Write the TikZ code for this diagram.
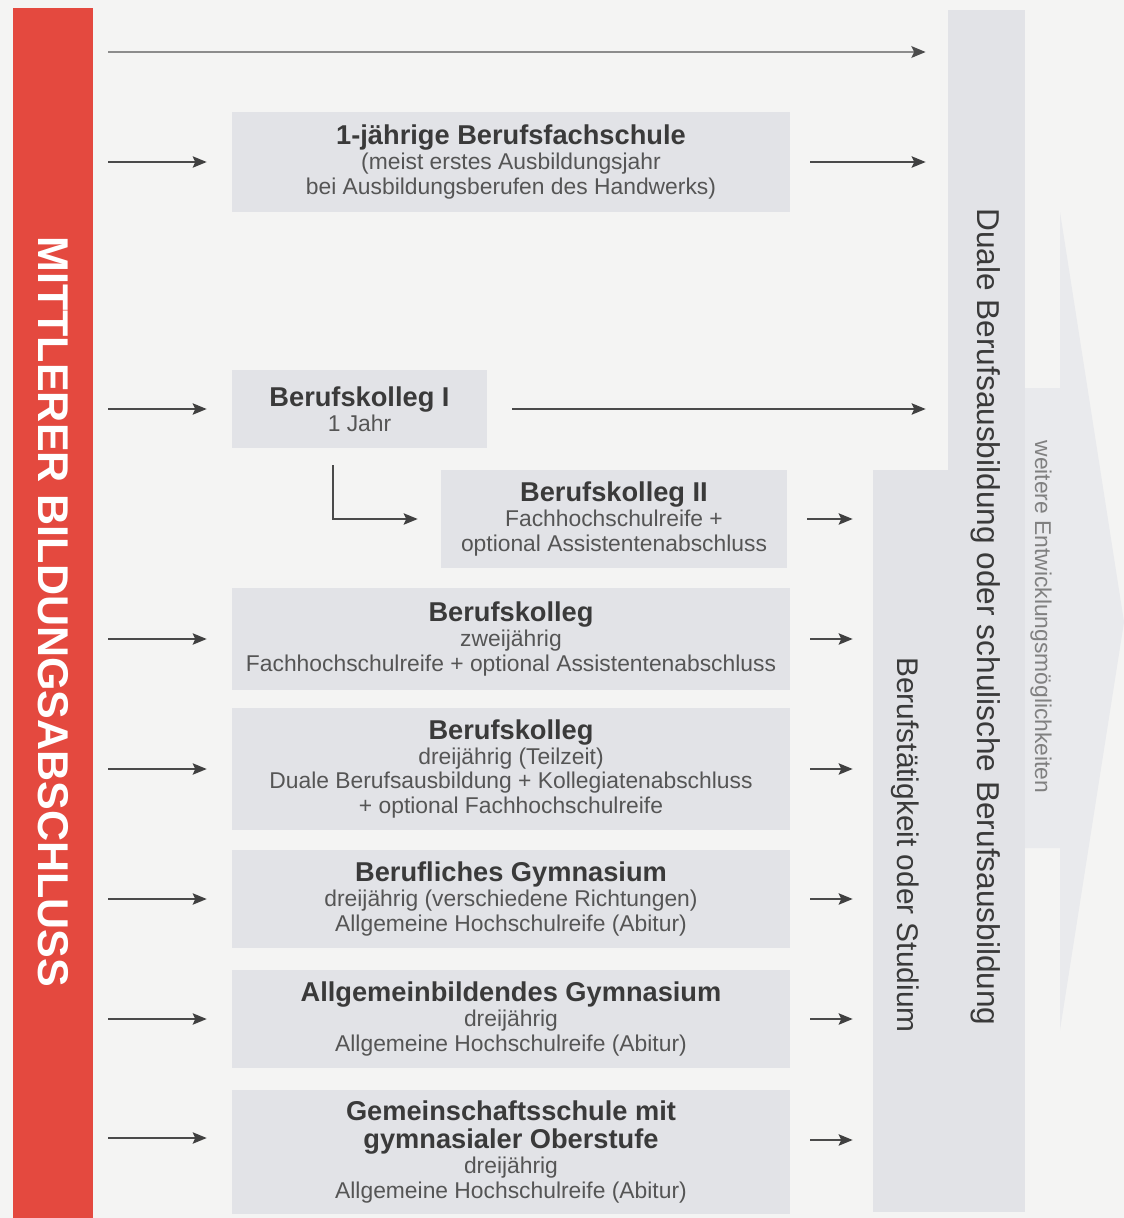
\documentclass[tikz,border=0pt]{standalone}
\usepackage{fontspec}
\setmainfont{Liberation Sans}
\usepackage{tikz}
\usetikzlibrary{arrows.meta,positioning,calc}
\definecolor{barRed}{HTML}{E4493F}
\definecolor{paperGray}{HTML}{F4F4F3}
\definecolor{boxGray}{HTML}{E2E3E7}
\definecolor{arrowGray}{HTML}{E9EAED}
\definecolor{textDark}{HTML}{3A3A3A}
\definecolor{textMid}{HTML}{555555}
\definecolor{lineDark}{HTML}{4A4A4A}
\newcommand{\ttl}[1]{{\fontsize{15.5}{14.2}\selectfont\bfseries\color{textDark}#1}}

\begin{document}
\begin{tikzpicture}[x=0.02cm, y=-0.02cm,
  every node/.style={inner sep=0pt},
  schoolbox/.style={fill=boxGray, align=center, text=textMid,
    font=\fontsize{13}{14.2}\selectfont},
  arr/.style={draw=lineDark, line width=0.9pt, -{Stealth[length=8pt,width=6.5pt,inset=1.5pt,color=black!75]}},
  toparr/.style={draw=black!45, line width=1.7pt, -{Stealth[length=8pt,width=6.5pt,inset=1.5pt,color=black!70]}},
  coltext/.style={rotate=-90, text=textDark, font=\fontsize{18}{20}\selectfont}]
\useasboundingbox (0,0) rectangle (1124,1218);
\fill[paperGray] (0,0) rectangle (1124,1218);

% big arrow behind the columns
\fill[arrowGray] (1025,388) -- (1060,388) -- (1060,212) -- (1124,622)
  -- (1060,1030) -- (1060,848) -- (1025,848) -- cycle;
\node[rotate=-90, text=black!50, font=\fontsize{13}{15}\selectfont] (weiter) at (1041,617) {weitere Entwicklungsmöglichkeiten};

% columns on the right
\node[fill=boxGray, minimum width=1.54cm, minimum height=24.04cm] (duale) at (986.5,611) {};
\node[fill=boxGray, minimum width=1.5cm, minimum height=14.84cm] (beruf) at (910.5,841) {};
\node[coltext] at (986,617) {Duale Berufsausbildung oder schulische Berufsausbildung};
\node[coltext, font=\fontsize{17}{20}\selectfont] at (905,845) {Berufstätigkeit oder Studium};

% red bar
\node[fill=barRed, minimum width=1.6cm, minimum height=24.3cm] (bar) at (53,615) {};
\node[rotate=-90, text=white, font=\fontsize{24.5}{26}\selectfont\bfseries] at (53,612) {MITTLERER BILDUNGSABSCHLUSS};

% schools
\node[schoolbox, minimum width=11.16cm, minimum height=2cm] (fach) at (511,162)
  {\ttl{1-jährige Berufsfachschule}\\(meist erstes Ausbildungsjahr\\bei Ausbildungsberufen des Handwerks)};
\node[schoolbox, minimum width=5.1cm, minimum height=1.56cm] (bk1) at (359.5,409)
  {\ttl{Berufskolleg I}\\1 Jahr};
\node[schoolbox, minimum width=6.92cm, minimum height=1.96cm] (bk2) at (614,519)
  {\ttl{Berufskolleg II}\\Fachhochschulreife +\\optional Assistentenabschluss};
\node[schoolbox, minimum width=11.16cm, minimum height=2.04cm] (bkzwei) at (511,639)
  {\ttl{Berufskolleg}\\zweijährig\\Fachhochschulreife + optional Assistentenabschluss};
\node[schoolbox, minimum width=11.16cm, minimum height=2.44cm] (bkdrei) at (511,769)
  {\ttl{Berufskolleg}\\dreijährig (Teilzeit)\\Duale Berufsausbildung + Kollegiatenabschluss\\+ optional Fachhochschulreife};
\node[schoolbox, minimum width=11.16cm, minimum height=1.96cm] (bgym) at (511,899)
  {\ttl{Berufliches Gymnasium}\\dreijährig (verschiedene Richtungen)\\Allgemeine Hochschulreife (Abitur)};
\node[schoolbox, minimum width=11.16cm, minimum height=1.96cm] (agym) at (511,1019)
  {\ttl{Allgemeinbildendes Gymnasium}\\dreijährig\\Allgemeine Hochschulreife (Abitur)};
\node[schoolbox, minimum width=11.16cm, minimum height=2.48cm] (gem) at (511,1152)
  {\ttl{Gemeinschaftsschule mit}\\[1.6pt]\ttl{gymnasialer Oberstufe}\\dreijährig\\Allgemeine Hochschulreife (Abitur)};

% arrows
\coordinate (topstart) at (bar.east |- 0,52);
\draw[toparr, shorten <=0.3cm, shorten >=0.44cm] (topstart) -- (topstart -| duale.west);
\foreach \n in {fach, bk1, bkzwei, bkdrei, bgym, agym}
  \draw[arr, shorten <=0.3cm, shorten >=0.5cm] (bar.east |- \n.west) -- (\n.west);
\coordinate (gemin) at ($(gem.west)+(0,-14)$);
\coordinate (gemout) at ($(gem.east)+(0,-12)$);
\draw[arr, shorten <=0.3cm, shorten >=0.5cm] (bar.east |- gemin) -- (gemin);
\draw[arr, shorten <=0.4cm, shorten >=0.44cm] (fach.east) -- (fach.east -| duale.west);
\draw[arr, shorten <=0.5cm, shorten >=0.44cm] (bk1.east) -- (bk1.east -| duale.west);
\draw[arr, shorten <=0.34cm, shorten >=0.46cm] ($(bk1.south)+(-26.5,0)$) |- (bk2.west);
\foreach \n in {bk2, bkzwei, bkdrei, bgym, agym}
  \draw[arr, shorten <=0.4cm, shorten >=0.4cm] (\n.east) -- (\n.east -| beruf.west);
\draw[arr, shorten <=0.4cm, shorten >=0.4cm] (gemout) -- (gemout -| beruf.west);
\end{tikzpicture}
\end{document}
